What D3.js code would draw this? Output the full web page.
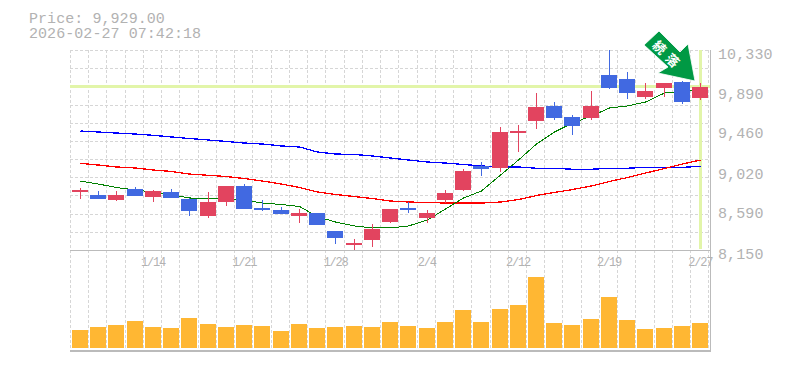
<!DOCTYPE html>
<html><head><meta charset="utf-8">
<script src="https://cdn.jsdelivr.net/npm/d3@7"></script>
<style>html,body{margin:0;padding:0;background:#fff;overflow:hidden}svg{display:block}
text{font-family:"Liberation Mono",monospace;fill:#b2b2b2}</style></head><body>
<svg id="c" width="785" height="370"></svg>
<script>
const titleLines=["Price: 9,929.00","2026-02-27 07:42:18"];
const lastPrice=9929;
const opens=[8793,8750,8695,8815,8728,8782,8706,8521,8673,8848,8608,8586,8521,8553,8357,8205,8259,8455,8608,8499,8695,8804,9066,9044,9425,9556,9720,9600,9589,10058,10014,9818,9916,9981,9807];
const highs=[8826,8793,8793,8837,8804,8815,8717,8782,8848,8869,8695,8619,8597,8553,8357,8270,8433,8597,8673,8586,8804,9033,9109,9491,9513,9861,9763,9622,9883,10330,10090,9970,9970,9992,9970];
const lows=[8706,8706,8684,8739,8673,8717,8521,8499,8630,8597,8575,8542,8444,8423,8215,8150,8183,8444,8553,8444,8662,8793,8957,9000,9218,9469,9567,9404,9567,9905,9796,9796,9818,9741,9785];
const closes=[8804,8706,8750,8739,8793,8717,8575,8673,8848,8597,8586,8542,8553,8423,8281,8226,8379,8597,8586,8553,8771,9011,9033,9436,9447,9709,9589,9502,9720,9916,9861,9883,9970,9763,9929];
const maGreen=[8902,8869,8831,8804,8782,8750,8717,8711,8711,8695,8662,8646,8624,8513,8455,8412,8390,8390,8412,8477,8597,8717,8793,8967,9131,9305,9436,9534,9611,9698,9720,9763,9861,9883,9894];
const maRed=[9095,9076,9055,9044,9022,9006,8978,8964,8951,8929,8902,8869,8831,8782,8755,8733,8711,8684,8673,8668,8662,8662,8662,8673,8700,8744,8777,8809,8848,8897,8940,8989,9038,9087,9131];
const maBlue=[9447,9436,9425,9414,9400,9382,9365,9349,9333,9316,9305,9284,9273,9218,9196,9191,9175,9153,9131,9109,9098,9082,9066,9055,9055,9041,9041,9030,9030,9041,9041,9051,9051,9051,9062];
const volumes=[18,21,23,27,21,20,30,24,21,23,22,17,24,20,21,22,21,26,22,20,26,38,26,39,43,71,25,23,29,51,28,19,20,22,25];
const priceTicks=[8150,8590,9020,9460,9890,10330];
const dateTickIdx=[4,9,14,19,24,29,34];
const dateTickLabels=["1/14","1/21","1/28","2/4","2/12","2/19","2/27"];
const gridRowCount=11;
const arrowLabel="続落";

const svg=d3.select("#c");
const n=closes.length;
const L=70,R=708.4,T=50,B=250,VT=248,VB=348;
const x=d3.scaleBand().domain(d3.range(n)).range([L,R]);
const cx=i=>Math.round(x(i)+x.bandwidth()/2+0.88);
const y=d3.scaleLinear().domain([8150,10330]).range([B,T]);
const vy=d3.scaleLinear().domain([0,100]).range([VB,VT]);
const GRID="#d6d6d6",AXIS="#bbb",HILITE="#e2f5a9",UP="#e2445f",DOWN="#4169e1",VOL="#ffb733";

// grid
const gv=svg.append("g").attr("stroke",GRID).attr("stroke-dasharray","3,2").attr("shape-rendering","crispEdges");
d3.range(n+1).forEach(i=>{const px=Math.round(L+x.step()*i)+0.5;
  gv.append("line").attr("x1",px).attr("x2",px).attr("y1",T).attr("y2",VB+2);});
const gridVals=d3.range(gridRowCount).map(k=>y.invert(T+k*(B-T)/gridRowCount));
gridVals.forEach(v=>{const py=Math.round(y(v))+0.5;
  gv.append("line").attr("x1",L).attr("x2",R).attr("y1",py).attr("y2",py);});

// highlights
svg.append("line").attr("x1",L).attr("x2",R+1.6).attr("y1",y(lastPrice)-0.3).attr("y2",y(lastPrice)-0.3)
  .attr("stroke",HILITE).attr("stroke-width",3).attr("shape-rendering","crispEdges");
svg.append("line").attr("x1",cx(n-1)+0.5).attr("x2",cx(n-1)+0.5).attr("y1",T).attr("y2",B-1)
  .attr("stroke",HILITE).attr("stroke-width",3).attr("shape-rendering","crispEdges");

// axis frame
const frame=svg.append("g").attr("shape-rendering","crispEdges").attr("stroke",AXIS);
frame.append("line").attr("x1",L).attr("x2",711).attr("y1",B+0.5).attr("y2",B+0.5);
frame.append("line").attr("x1",L).attr("x2",711).attr("y1",350.5).attr("y2",350.5).attr("stroke-width",2);
frame.append("line").attr("x1",710.5).attr("x2",710.5).attr("y1",T).attr("y2",351).attr("stroke-width",1.5);

// moving averages
const ln=d3.line().x((d,i)=>cx(i)+0.5).y(d=>y(d));
[[maBlue,"#0000ff",1.3],[maRed,"#ff0000",1.3],[maGreen,"#008000",1]].forEach(([s,c,w])=>{
  svg.append("path").datum(s).attr("d",ln).attr("fill","none").attr("stroke",c)
    .attr("stroke-width",w).attr("shape-rendering","crispEdges");});

// candles
const cg=svg.append("g").attr("shape-rendering","crispEdges");
closes.forEach((c,i)=>{
  const col=c>=opens[i]?UP:DOWN;
  cg.append("rect").attr("x",cx(i)).attr("width",1).attr("y",Math.round(y(highs[i])))
    .attr("height",Math.round(y(lows[i]))-Math.round(y(highs[i]))).attr("fill",col);
  const t=Math.round(y(Math.max(c,opens[i]))),b=Math.round(y(Math.min(c,opens[i])));
  cg.append("rect").attr("x",cx(i)-8).attr("width",16).attr("y",t).attr("height",Math.max(2,b-t)).attr("fill",col);
});

// volume
svg.append("g").attr("shape-rendering","crispEdges").selectAll("rect").data(volumes).join("rect")
  .attr("x",(d,i)=>cx(i)-8).attr("width",16).attr("y",d=>vy(d)).attr("height",d=>VB-vy(d)).attr("fill",VOL);

// axes
const ya=d3.axisRight(y).tickValues(priceTicks).tickFormat(d3.format(",")).tickSize(0).tickPadding(0);
const yg=svg.append("g").attr("transform","translate(718,0)").call(ya);
yg.select(".domain").remove();
yg.selectAll(".tick text").attr("x",0).attr("dy",0).attr("y",8).style("font-size","15px").style("letter-spacing","0.1px");

const xa=d3.axisBottom(x).tickValues(dateTickIdx).tickFormat(i=>dateTickLabels[dateTickIdx.indexOf(i)]).tickSize(0).tickPadding(0);
const xg=svg.append("g").attr("transform","translate(1,266)").call(xa);
xg.select(".domain").remove();
xg.selectAll(".tick text").attr("y",0).attr("dy",0).style("font-size","12px").style("letter-spacing","-1.2px");

// title
titleLines.forEach((t,i)=>svg.append("text").attr("x",29).attr("y",23+i*15).style("font-size","15px").style("letter-spacing","0.06px").text(t));

// arrow
const ag=svg.append("g");
ag.append("polygon").attr("points","659,31 644,45 668,67 658,73 695,81 688,44 680,52")
  .attr("fill","#009944").attr("stroke","#fff").attr("stroke-width",0.8);
[[660,47],[673,60]].forEach(([px,py],i)=>ag.append("text")
  .attr("transform",`translate(${px},${py}) rotate(45)`).attr("text-anchor","middle").attr("dominant-baseline","central")
  .style("font-family","'Noto Sans CJK JP'").style("font-size","13px").style("font-weight","700").style("fill","#fff").text(arrowLabel[i]));
</script></body></html>
